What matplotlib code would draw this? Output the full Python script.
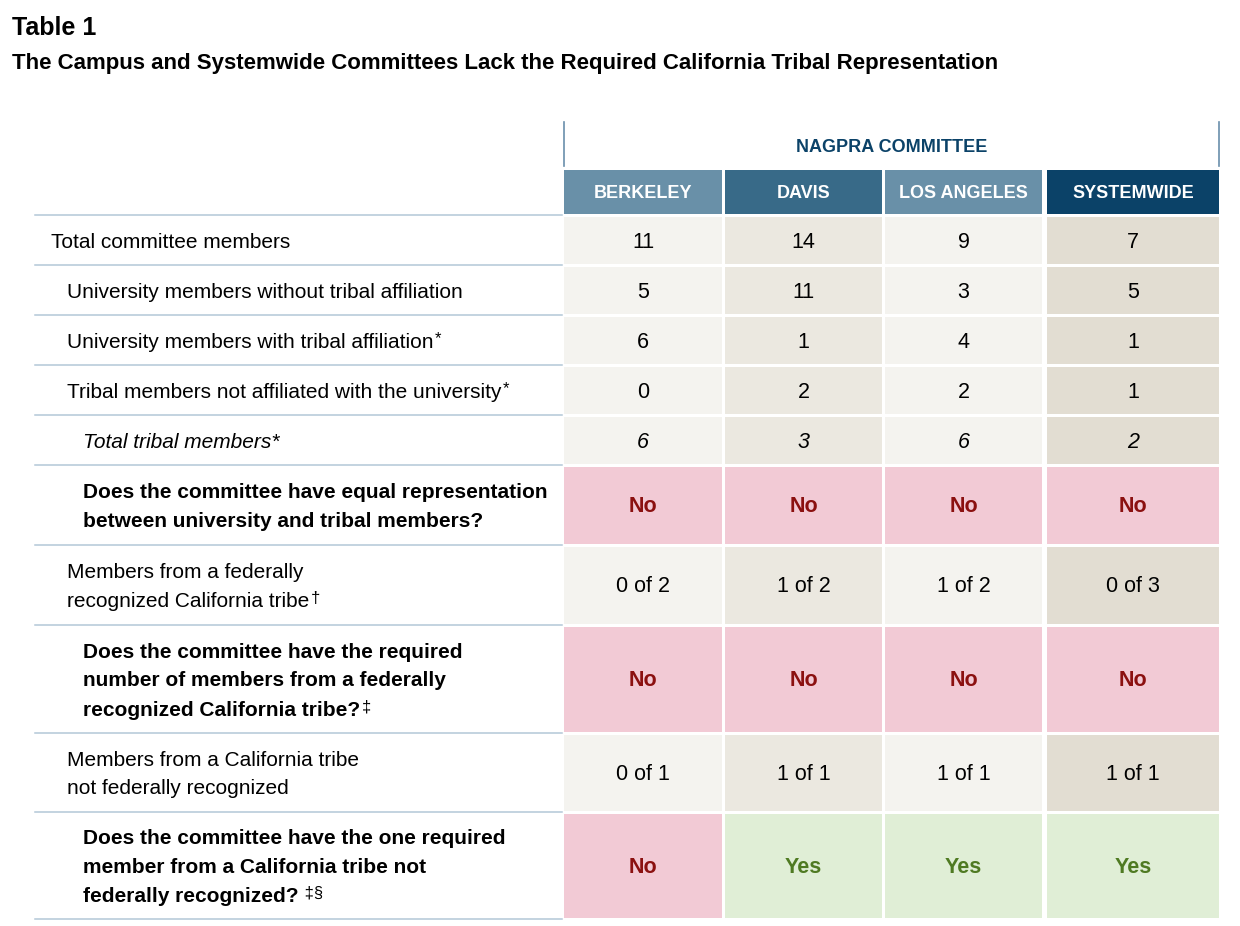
"""
Table 1 - NAGPRA committee membership by campus
"""

import matplotlib.pyplot as plt
from matplotlib.patches import Rectangle

plt.rcParams['font.family'] = ['Liberation Sans', 'DejaVu Sans']

# 表格数据
columns = ['BERKELEY', 'DAVIS', 'LOS ANGELES', 'SYSTEMWIDE']
row_labels = [
    'Total committee members',
    'University members without tribal affiliation',
    'University members with tribal affiliation',
    'Tribal members not affiliated with the university',
    'Total tribal members*',
    'Does the committee have equal representation\nbetween university and tribal members?',
    'Members from a federally\nrecognized California tribe',
    'Does the committee have the required\nnumber of members from a federally\nrecognized California tribe?',
    'Members from a California tribe\nnot federally recognized',
    'Does the committee have the one required\nmember from a California tribe not\nfederally recognized?',
]
row_notes = ['', '', '*', '*', '', '', '\u2020', '\u2021', '', ' \u2021\u00a7']
row_values = [
    ['11', '14', '9', '7'],
    ['5', '11', '3', '5'],
    ['6', '1', '4', '1'],
    ['0', '2', '2', '1'],
    ['6', '3', '6', '2'],
    ['No', 'No', 'No', 'No'],
    ['0 of 2', '1 of 2', '1 of 2', '0 of 3'],
    ['No', 'No', 'No', 'No'],
    ['0 of 1', '1 of 1', '1 of 1', '1 of 1'],
    ['No', 'Yes', 'Yes', 'Yes'],
]

# 版式
indent = [51, 67, 67, 67, 83, 83, 67, 83, 67, 83]
row_style = ['normal', 'normal', 'normal', 'normal', 'italic',
             'bold', 'normal', 'bold', 'normal', 'bold']
row_edges = [215, 265, 315, 365, 415, 465, 545, 625, 733, 812, 919]
col_edges = [(564, 722), (725, 882), (885, 1042), (1047, 1219)]
LINE_STEP = 29

header_colors = ['#6990a8', '#386a88', '#6990a8', '#0b4268']
cell_colors = ['#f4f3ef', '#ebe8e0', '#f4f3ef', '#e2ddd2']
NO_BG, NO_FG = '#f2cad5', '#8b1010'
YES_BG, YES_FG = '#e0eed6', '#4f7a22'
LINE_COLOR = '#b3c7d7'
NAVY = '#0b4268'

fig = plt.figure(figsize=(12.4, 9.26), dpi=100)
ax = fig.add_axes([0, 0, 1, 1])
ax.set_xlim(0, 1240)
ax.set_ylim(926, 0)
ax.axis('off')

# 标题
ax.text(12, 28, 'Table 1', fontsize=18, fontweight='bold', va='center', ha='left',
        color='black')
ax.text(12, 63, 'The Campus and Systemwide Committees Lack the Required California Tribal Representation',
        fontsize=16, fontweight='bold', va='center', ha='left', color='black')

# 表头
ax.plot([564, 564], [122, 166], color='#6a8fab', lw=1.2)
ax.plot([1219, 1219], [122, 166], color='#6a8fab', lw=1.2)
ax.text((564 + 1219) / 2, 147, 'NAGPRA COMMITTEE', fontsize=13, fontweight='bold',
        color=NAVY, ha='center', va='center')
for (x0, x1), name, hc in zip(col_edges, columns, header_colors):
    ax.add_patch(Rectangle((x0, 170), x1 - x0, 44, facecolor=hc, edgecolor='none'))
    ax.text((x0 + x1) / 2, 194, name, fontsize=13, fontweight='bold', color='white',
            ha='center', va='center')

# 行
for i, label in enumerate(row_labels):
    top, bot = row_edges[i] + 2, row_edges[i + 1] - 1
    yc = (row_edges[i] + row_edges[i + 1]) / 2
    style = row_style[i]
    fw = 'bold' if style == 'bold' else 'normal'
    fs = 'italic' if style == 'italic' else 'normal'
    lines = label.split('\n')
    y0 = yc - (len(lines) - 1) * LINE_STEP / 2
    for k, line in enumerate(lines):
        t = ax.text(indent[i], y0 + k * LINE_STEP + 2, line, fontsize=15, fontweight=fw,
                    fontstyle=fs, ha='left', va='center', color='black')
    if row_notes[i]:
        # 上标脚注，接在最后一行末尾
        ax.annotate(row_notes[i], xy=(1, 1), xycoords=t, xytext=(1, -10),
                    textcoords='offset points', fontsize=12, ha='left', va='bottom')
    for j, ((x0, x1), val) in enumerate(zip(col_edges, row_values[i])):
        if val == 'No':
            bg, fg, vw = NO_BG, NO_FG, 'bold'
        elif val == 'Yes':
            bg, fg, vw = YES_BG, YES_FG, 'bold'
        else:
            bg, fg, vw = cell_colors[j], 'black', 'normal'
        ax.add_patch(Rectangle((x0, top), x1 - x0, bot - top, facecolor=bg, edgecolor='none'))
        ax.text((x0 + x1) / 2, yc + 2, val, fontsize=15.5, fontweight=vw, color=fg,
                fontstyle=fs, ha='center', va='center')

# 分隔线
for y in row_edges:
    ax.plot([35, 562], [y, y], color=LINE_COLOR, lw=1.1)

plt.savefig('out.png', dpi=100)
plt.close()
